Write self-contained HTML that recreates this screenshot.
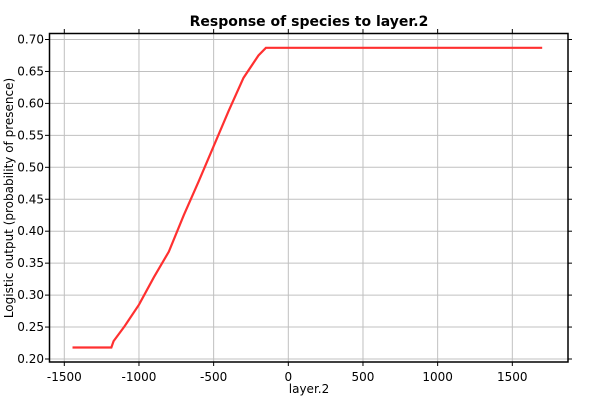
<!DOCTYPE html>
<html><head><meta charset="utf-8"><style>
body{margin:0;background:#fff;}
svg{display:block;font-family:"DejaVu Sans","Liberation Sans",sans-serif;}
</style></head><body>
<svg id="c" width="600" height="400">
<text x="309" y="26" text-anchor="middle" font-size="14" font-weight="bold">Response of species to layer.2</text>
<text x="309" y="393" text-anchor="middle" font-size="12">layer.2</text>
<text transform="translate(13,198) rotate(-90)" text-anchor="middle" font-size="12">Logistic output (probability of presence)</text>
<g id="grid"></g><g id="ticks"></g>
<rect x="49.5" y="33.5" width="518.5" height="328.5" fill="none" stroke="#000" stroke-width="1.5"/>
<polyline id="line" fill="none" stroke="#ff3030" stroke-width="2.2"/>
</svg>
<script>
const xTicks=[-1500,-1000,-500,0,500,1000,1500];
const yTicks=[0.20,0.25,0.30,0.35,0.40,0.45,0.50,0.55,0.60,0.65,0.70];
const xs=[-1445,-1185,-1170,-1100,-1000,-900,-800,-700,-600,-500,-400,-300,-200,-150,1700];
const ys=[0.218,0.218,0.228,0.250,0.285,0.328,0.368,0.425,0.478,0.533,0.588,0.640,0.675,0.687,0.687];
const X=v=>64.3+(v+1500)*74.67/500;
const Y=v=>359-(v-0.2)*639;
const NS='http://www.w3.org/2000/svg';
const g=document.getElementById('grid'),t=document.getElementById('ticks');
function mk(p,tag,a){const e=document.createElementNS(NS,tag);for(const k in a)e.setAttribute(k,a[k]);p.appendChild(e);return e;}
xTicks.forEach(v=>{const x=X(v);
const l=mk(g,'line',{x1:x,x2:x,y1:34,y2:362,stroke:'#c0c0c0'});


mk(t,'line',{x1:x,x2:x,y1:362,y2:366,stroke:'#000'});
mk(t,'line',{x1:x,x2:x,y1:29,y2:33,stroke:'#000'});
const tx=mk(t,'text',{x:x,y:381,'text-anchor':'middle','font-size':12});tx.textContent=v;

});
yTicks.forEach(v=>{const y=Y(v);
const l=mk(g,'line',{x1:50,x2:568,y1:y,y2:y,stroke:'#c0c0c0'});


mk(t,'line',{x1:45,x2:49,y1:y,y2:y,stroke:'#000'});
mk(t,'line',{x1:568,x2:572,y1:y,y2:y,stroke:'#000'});
const tx=mk(t,'text',{x:44,y:y+4,'text-anchor':'end','font-size':12});tx.textContent=v.toFixed(2);

});
document.getElementById('line').setAttribute('points',xs.map((v,i)=>X(v)+','+Y(ys[i])).join(' '));
</script>
</body></html>
